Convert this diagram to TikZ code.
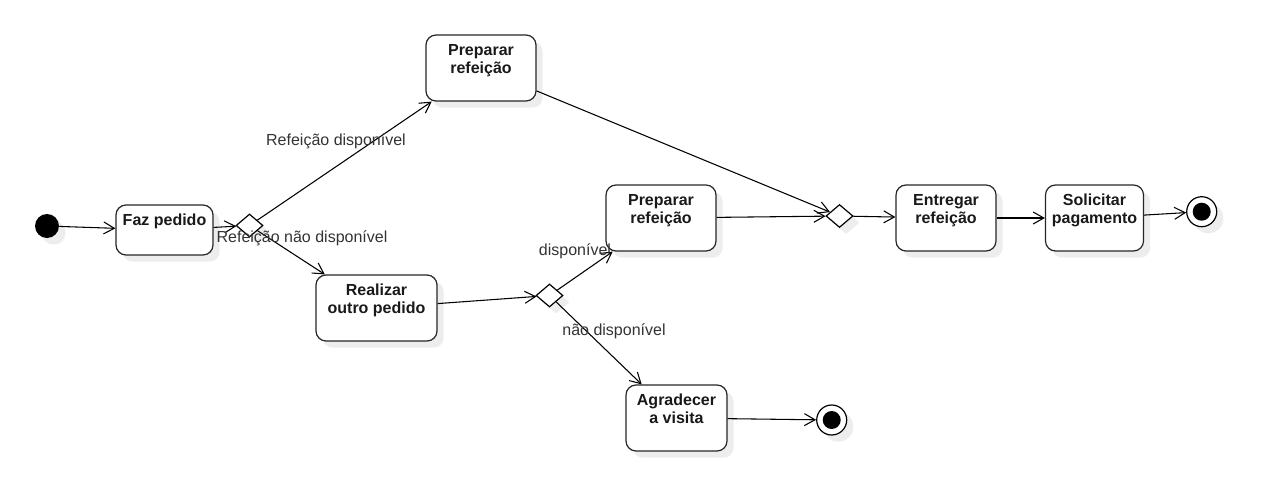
\documentclass[tikz,border=0pt]{standalone}
\usepackage{fontspec}
\setmainfont{Liberation Sans}
\usetikzlibrary{arrows.meta,shapes.geometric,shadows}
\begin{document}
\begin{tikzpicture}[x=0.75pt,y=-0.75pt,
  shad/.style={drop shadow={shadow xshift=5pt,shadow yshift=-5pt,fill=black!7,opacity=1}},
  act/.style={draw=black!85, line width=0.9pt, rounded corners=7.5pt, fill=white, shad, inner sep=0pt, minimum height=49.5pt},
  lbl/.style={anchor=north, yshift=-7pt, inner sep=0pt, align=center, text=black!90, font=\bfseries\fontsize{12}{13.5}\selectfont},
  dec/.style={draw, diamond, line width=0.9pt, fill=white, shad, minimum width=20.25pt, minimum height=17.25pt, inner sep=0pt},
  init/.style={circle, fill=black, minimum size=18pt, inner sep=0pt, shad},
  fin/.style={circle, draw, line width=0.9pt, fill=white, minimum size=22.5pt, inner sep=0pt, shad,
    path picture={\fill[black] (path picture bounding box.center) circle (6.75pt);}},
  arr/.style={draw, line width=0.8pt, -{Straight Barb[length=8pt,width=9pt]}},
  elbl/.style={font=\fontsize{12}{14}\selectfont, text=black!80, inner sep=0pt}
]
\useasboundingbox (0,0) rectangle (1262,478);

\node[init] (start) at (47,226) {};
\node[act, minimum width=72.75pt, minimum height=37.5pt, label={[lbl]north:Faz pedido}] (faz) at (164.5,230) {};
\node[dec] (d1) at (249.5,225.5) {};
\node[act, minimum width=82.5pt, label={[lbl]north:Preparar\\refeição}] (prep1) at (481,68) {};
\node[act, minimum width=90.75pt, label={[lbl]north:Realizar\\outro pedido}] (real) at (376.5,308) {};
\node[dec] (d2) at (549.5,295.5) {};
\node[act, minimum width=82.5pt, label={[lbl]north:Preparar\\refeição}] (prep2) at (661,218) {};
\node[act, minimum width=75.75pt, label={[lbl]north:Agradecer\\a visita}] (agr) at (676.5,418) {};
\node[fin] (end2) at (831.7,420) {};
\node[dec] (d3) at (839.5,216) {};
\node[act, minimum width=75pt, label={[lbl]north:Entregar\\refeição}] (ent) at (946,218) {};
\node[act, minimum width=73.5pt, label={[lbl]north:Solicitar\\pagamento}] (sol) at (1094.5,218) {};
\node[fin] (end1) at (1201.7,211.7) {};

\draw[arr] (start) -- (faz);
\draw[arr] (faz) -- (d1);
\draw[arr] (d1) -- (prep1);
\draw[arr] (d1) -- (real);
\draw[arr] (real) -- (d2);
\draw[arr] (d2) -- (prep2);
\draw[arr] (d2) -- (agr);
\draw[arr] (prep1) -- (d3);
\draw[arr] (prep2) -- (d3);
\draw[arr] (d3) -- (ent);
\draw[arr] (ent) -- (sol);
\draw[arr] (sol) -- (end1);
\draw[arr] (agr) -- (end2);

\node[elbl] (l1) at (336,141) {Refeição disponível};
\node[elbl] (l2) at (302,238) {Refeição não disponível};
\node[elbl] (l3) at (575,251) {disponível};
\node[elbl] (l4) at (614,331) {não disponível};
\end{tikzpicture}
\end{document}
